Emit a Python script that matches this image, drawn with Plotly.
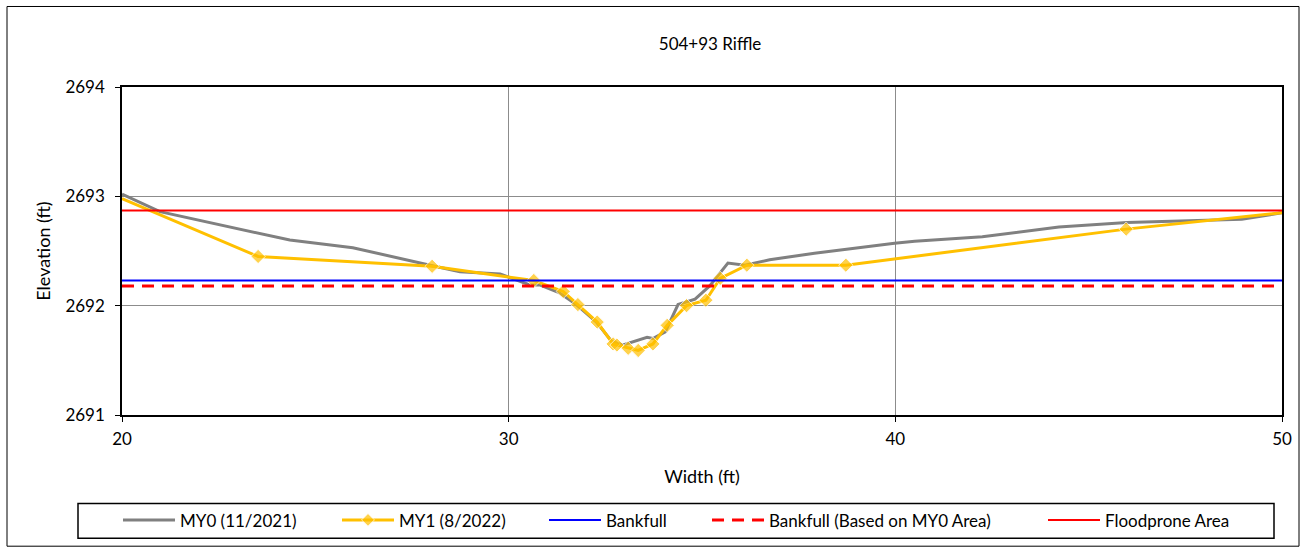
import plotly.graph_objects as go

title = "504+93 Riffle"

# MY0 (11/2021) survey
my0_x = [20.0, 20.98, 24.34, 25.97, 27.97, 28.74, 29.78, 30.55, 30.8, 31.3, 31.75, 32.27, 32.67, 32.96, 33.58, 33.73, 34.05, 34.38, 34.82, 35.2, 35.67, 36.11, 36.75, 37.91, 39.98, 40.5, 42.25, 44.23, 45.99, 48.96, 50.0]
my0_y = [2693.02, 2692.86, 2692.60, 2692.53, 2692.37, 2692.31, 2692.29, 2692.19, 2692.19, 2692.12, 2692.01, 2691.85, 2691.67, 2691.64, 2691.71, 2691.70, 2691.76, 2692.01, 2692.06, 2692.18, 2692.39, 2692.37, 2692.42, 2692.48, 2692.57, 2692.59, 2692.63, 2692.72, 2692.76, 2692.79, 2692.85]

# MY1 (8/2022) survey
my1_x = [20.0, 23.52, 28.02, 30.65, 31.41, 31.79, 32.29, 32.70, 32.80, 33.09, 33.35, 33.73, 34.10, 34.60, 35.10, 35.47, 36.16, 38.72, 45.97, 50.0]
my1_y = [2692.98, 2692.45, 2692.36, 2692.23, 2692.13, 2692.01, 2691.85, 2691.65, 2691.64, 2691.61, 2691.59, 2691.65, 2691.82, 2692.00, 2692.05, 2692.25, 2692.37, 2692.37, 2692.70, 2692.85]
my1_marker = [0] + [11] * 18 + [0]

line_x = [20, 50]
bankfull = 2692.23
bankfull_my0 = 2692.18
floodprone = 2692.87

x_ticks = [20, 30, 40, 50]
y_ticks = [2691, 2692, 2693, 2694]

FONT = "Lato"

fig = go.Figure()
fig.add_trace(go.Scatter(x=my0_x, y=my0_y, mode="lines", name="MY0 (11/2021)",
                         line=dict(color="#808080", width=3), legend="legend"))
fig.add_trace(go.Scatter(x=my1_x, y=my1_y, mode="lines+markers", name="MY1 (8/2022)",
                         line=dict(color="#FFC000", width=3),
                         marker=dict(symbol="diamond", size=my1_marker, color="#FFC000"),
                         legend="legend2"))
fig.add_trace(go.Scatter(x=line_x, y=[bankfull, bankfull], mode="lines", name="Bankfull",
                         line=dict(color="#0000FF", width=2), legend="legend3"))
fig.add_trace(go.Scatter(x=line_x, y=[bankfull_my0, bankfull_my0], mode="lines",
                         name="Bankfull (Based on MY0 Area)",
                         line=dict(color="#FF0000", width=3, dash="12px,8px"), legend="legend4"))
fig.add_trace(go.Scatter(x=line_x, y=[floodprone, floodprone], mode="lines", name="Floodprone Area",
                         line=dict(color="#FF0000", width=2), legend="legend5"))

L, R, T, B = 122, 24, 87, 133
W, H = 1306, 550
pw, ph = W - L - R, H - T - B

def px2x(px):
    return (px - L) / pw

def py2y(py):
    return (H - B - py) / ph

leg_common = dict(orientation="h", yanchor="middle", xanchor="left", y=py2y(523),
                  bgcolor="rgba(0,0,0,0)", borderwidth=0, font=dict(family=FONT, size=17, color="#000"),
                  itemwidth=52)
legend_line_px = [123, 342, 549, 712, 1048]

fig.update_layout(
    width=W, height=H,
    margin=dict(l=L, r=R, t=T, b=B),
    paper_bgcolor="white", plot_bgcolor="white",
    showlegend=True,
    font=dict(family=FONT, size=17, color="#000"),
    title=dict(text=title, x=px2x(710), xref="paper", xanchor="center",
               y=1 - 44 / H, yref="container", yanchor="middle",
               font=dict(family=FONT, size=17, color="#000")),
    legend=dict(**leg_common, x=px2x(legend_line_px[0] - 5)),
    legend2=dict(**leg_common, x=px2x(legend_line_px[1] - 5)),
    legend3=dict(**leg_common, x=px2x(legend_line_px[2] - 5)),
    legend4=dict(**leg_common, x=px2x(legend_line_px[3] - 5)),
    legend5=dict(**leg_common, x=px2x(legend_line_px[4] - 5)),
    xaxis=dict(range=[20, 50], tickvals=x_ticks, showgrid=True, gridcolor="#8c8c8c", gridwidth=1,
               showline=True, linecolor="#000", linewidth=1.5, mirror=True,
               ticks="outside", ticklen=5, tickcolor="#000", zeroline=False,
               ticklabelstandoff=3,
               title=dict(text="Width (ft)", standoff=22, font=dict(family=FONT, size=18)),
               tickfont=dict(family=FONT, size=17)),
    yaxis=dict(range=[2691, 2694], tickvals=y_ticks, tickformat="d", showgrid=True, gridcolor="#8c8c8c",
               gridwidth=1, showline=True, linecolor="#000", linewidth=1.5, mirror=True,
               ticks="outside", ticklen=5, tickcolor="#000", zeroline=False,
               ticklabelstandoff=7,
               title=dict(text="Elevation (ft)", standoff=10, font=dict(family=FONT, size=18)),
               tickfont=dict(family=FONT, size=17)),
    shapes=[
        dict(type="rect", xref="paper", yref="paper", x0=px2x(7), x1=px2x(1299), y0=py2y(549), y1=py2y(6),
             line=dict(color="#000", width=1), fillcolor="rgba(0,0,0,0)", layer="below"),
        dict(type="rect", xref="paper", yref="paper", x0=px2x(78), x1=px2x(1274), y0=py2y(541), y1=py2y(506),
             line=dict(color="#000", width=1.5), fillcolor="rgba(0,0,0,0)", layer="below"),
    ],
)

fig.write_html("out.html", config={"displayModeBar": False},
               post_script="document.body.style.margin='0';")
